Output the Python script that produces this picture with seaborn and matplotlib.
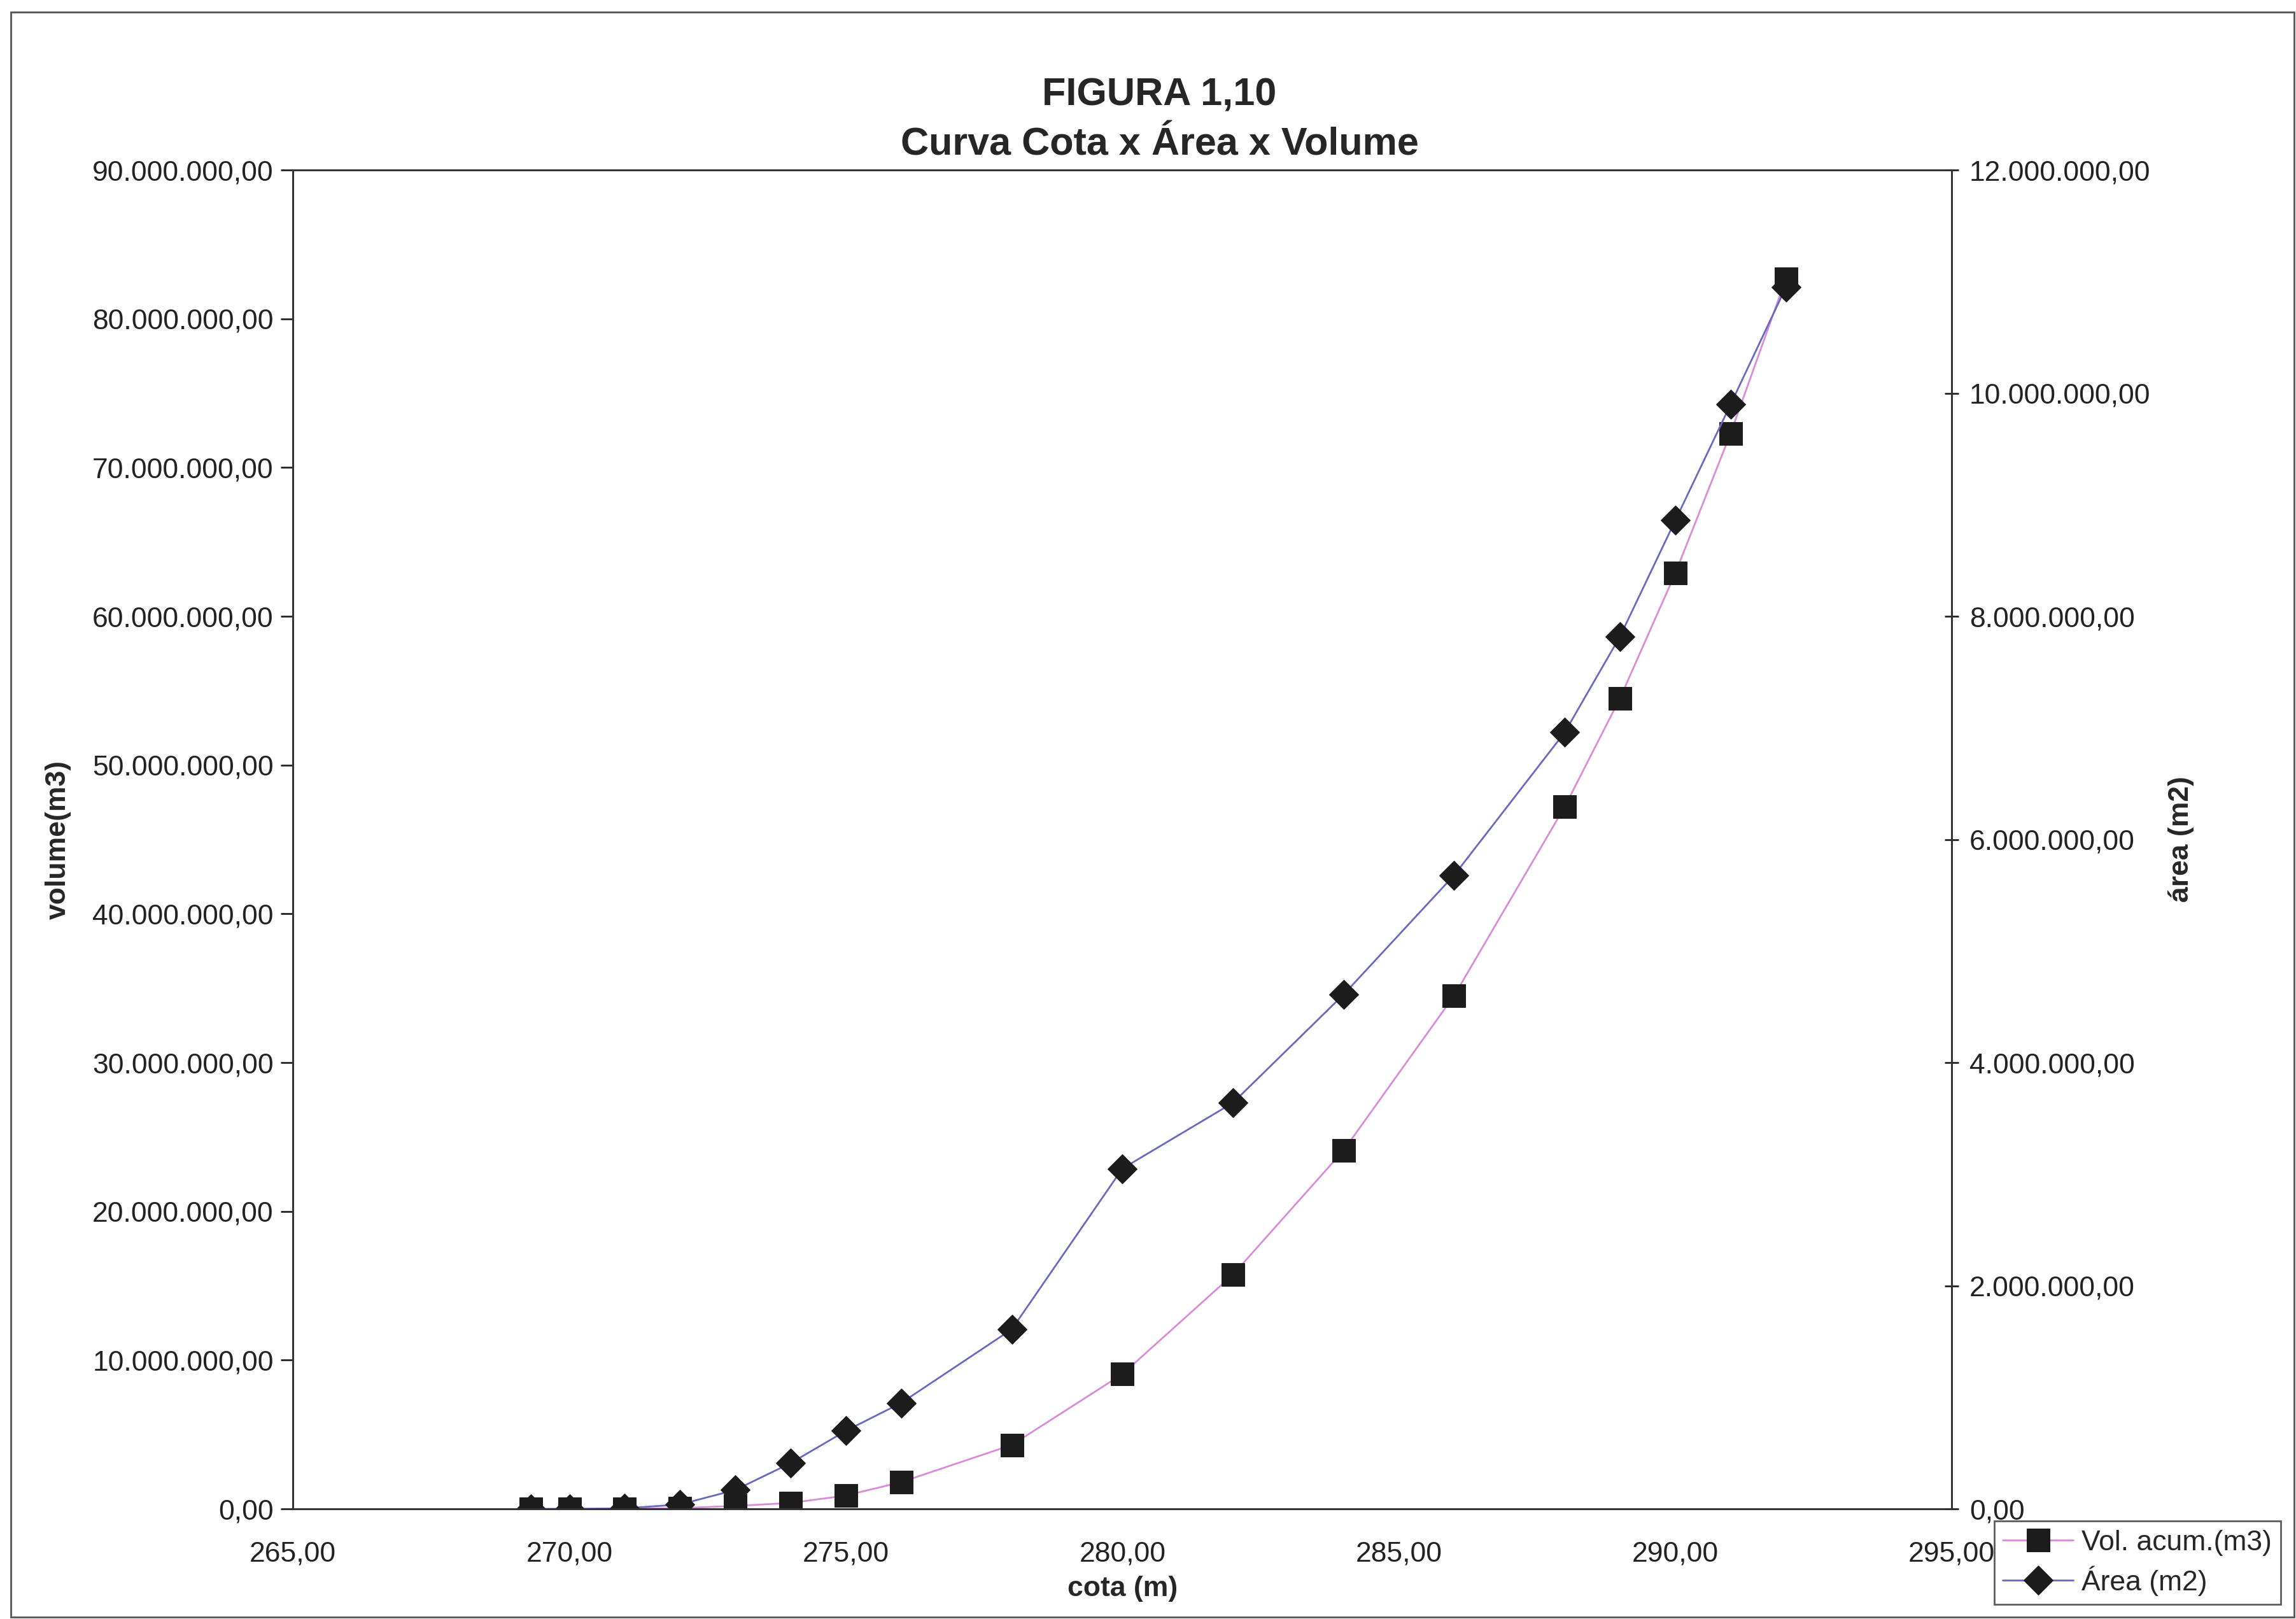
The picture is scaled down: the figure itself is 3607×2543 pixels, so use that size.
import numpy as np
import pandas as pd
import seaborn as sns
import matplotlib.pyplot as plt
from matplotlib.ticker import FuncFormatter, MultipleLocator
from matplotlib.patches import Rectangle

# dados
cota = [269.3, 270, 271, 272, 273, 274, 275, 276, 278, 280, 282, 284, 286, 288, 289, 290, 291, 292]
volume = [0, 0, 0.02e6, 0.05e6, 0.2e6, 0.4e6, 0.9e6, 1.8e6, 4.3e6, 9.06e6, 15.75e6, 24.1e6,
          34.5e6, 47.2e6, 54.5e6, 62.9e6, 72.3e6, 82.7e6]
area = [0, 0, 0.005e6, 0.04e6, 0.17e6, 0.41e6, 0.70e6, 0.95e6, 1.61e6, 3.05e6, 3.64e6, 4.61e6,
        5.68e6, 6.96e6, 7.82e6, 8.86e6, 9.90e6, 10.95e6]

df = pd.DataFrame({"cota": cota, "volume": volume, "area": area})

sns.set_style("white")
plt.rcParams['font.family'] = ['Liberation Sans', 'DejaVu Sans']


def br(v, pos=None):
    s = f"{v:,.2f}"
    return s.replace(",", "X").replace(".", ",").replace("X", ".")


fig = plt.figure(figsize=(36.07, 25.43), dpi=100)
ax = fig.add_axes([0.1276, 0.068, 0.7225, 0.827])
ax2 = ax.twinx()

sns.lineplot(data=df, x="cota", y="volume", ax=ax, color="#d98ad9", linewidth=2,
             marker="s", markersize=26, markerfacecolor="#1c1c1c", markeredgecolor="#1c1c1c",
             label="Vol. acum.(m3)")
sns.lineplot(data=df, x="cota", y="area", ax=ax2, color="#6868c0", linewidth=2,
             marker="D", markersize=23, markerfacecolor="#1c1c1c", markeredgecolor="#1c1c1c",
             label="Área (m2)")

ax.set_xlim(265, 295)
ax.set_ylim(0, 90e6)
ax2.set_ylim(0, 12e6)
ax.xaxis.set_major_locator(MultipleLocator(5))
ax.yaxis.set_major_locator(MultipleLocator(10e6))
ax2.yaxis.set_major_locator(MultipleLocator(2e6))
ax.xaxis.set_major_formatter(FuncFormatter(br))
ax.yaxis.set_major_formatter(FuncFormatter(br))
ax2.yaxis.set_major_formatter(FuncFormatter(br))

for a in (ax, ax2):
    for sp in a.spines.values():
        sp.set_color("#333333")
        sp.set_linewidth(2)

ax.tick_params(axis="y", labelsize=32, direction="out", length=14, width=2, colors="#222222", pad=8)
ax.tick_params(axis="x", labelsize=32, direction="out", length=12, width=2, colors="#222222", pad=24)
ax2.tick_params(axis="y", labelsize=32, direction="inout", length=16, width=2, colors="#222222", pad=12)

ax.set_xlabel("cota (m)", fontsize=32, fontweight="bold", labelpad=10)
ax.set_ylabel("volume(m3)", fontsize=32, fontweight="bold", labelpad=24)
ax2.set_ylabel("área (m2)", fontsize=32, fontweight="bold", labelpad=20)

fig.text(0.505, 0.930, "FIGURA 1,10", ha="center", va="bottom", fontsize=44, fontweight="bold")
fig.text(0.505, 0.899, "Curva Cota x Área x Volume", ha="center", va="bottom", fontsize=44, fontweight="bold")

h1, l1 = ax.get_legend_handles_labels()
h2, l2 = ax2.get_legend_handles_labels()
for a in (ax, ax2):
    if a.get_legend() is not None:
        a.get_legend().remove()
leg = fig.legend(h1 + h2, l1 + l2, loc="lower left", bbox_to_anchor=(0.8685, 0.009),
                 borderaxespad=0, fontsize=32, frameon=True, fancybox=False, handlelength=2.5,
                 borderpad=0.3, labelspacing=0.35, handletextpad=0.3)
leg.get_frame().set_edgecolor("#333333")
leg.get_frame().set_linewidth(2)

fig.patches.append(Rectangle((0.0047, 0.001), 0.9945, 0.9915, transform=fig.transFigure,
                             fill=False, edgecolor="#555555", linewidth=2))

fig.savefig("out.png", dpi=100)
